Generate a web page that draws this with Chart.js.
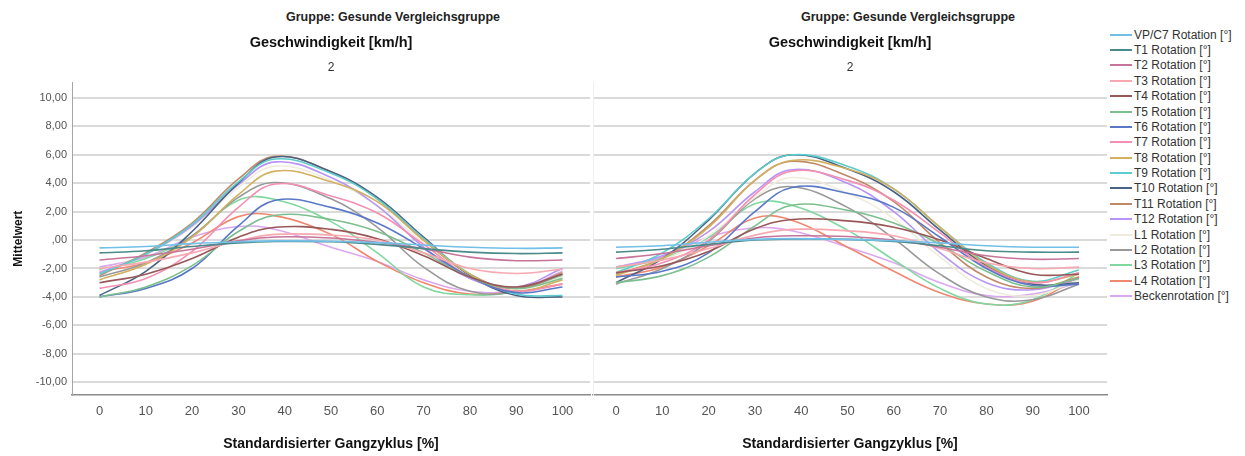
<!DOCTYPE html>
<html>
<head>
<meta charset="utf-8">
<script src="https://cdn.jsdelivr.net/npm/chart.js@4.4.0/dist/chart.umd.min.js"></script>
<style>
  body { margin: 0; background: #fff; font-family: "Liberation Sans", Arial, sans-serif; }
  #wrap { position: relative; width: 1245px; height: 456px; overflow: hidden; }
  .gruppe { position: absolute; top: 10px; font-weight: bold; font-size: 12.5px; color: #222; white-space: nowrap; transform: translateX(-50%); }
  #cA { position: absolute; left: 0; top: 0; }
  #cB { position: absolute; left: 592px; top: 0; }
  #legend { position: absolute; left: 1110px; top: 27px; font-size: 12px; color: #333; }
  .item { height: 15.38px; display: flex; align-items: center; white-space: nowrap; }
  .sw { width: 22px; height: 2px; margin-right: 2px; }
</style>
</head>
<body>
<div id="wrap">
  <div class="gruppe" style="left:393px">Gruppe: Gesunde Vergleichsgruppe</div>
  <div class="gruppe" style="left:908px">Gruppe: Gesunde Vergleichsgruppe</div>
  <canvas id="cA" width="592" height="456"></canvas>
  <canvas id="cB" width="517" height="456"></canvas>
  <div id="legend"></div>
</div>
<script>
const seriesNames = ['VP/C7 Rotation [°]', 'T1 Rotation [°]', 'T2 Rotation [°]', 'T3 Rotation [°]', 'T4 Rotation [°]',
  'T5 Rotation [°]', 'T6 Rotation [°]', 'T7 Rotation [°]', 'T8 Rotation [°]', 'T9 Rotation [°]', 'T10 Rotation [°]',
  'T11 Rotation [°]', 'T12 Rotation [°]', 'L1 Rotation [°]', 'L2 Rotation [°]', 'L3 Rotation [°]', 'L4 Rotation [°]',
  'Beckenrotation [°]'];

const seriesColors = ['#72bfe8', '#4a8a8a', '#c7749a', '#f7a8b0', '#995858', '#7cbf8e', '#5a78c8', '#f48fb1', '#d2b060',
  '#5ccccc', '#4a6285', '#c08a68', '#b794f6', '#f0ecdc', '#999999', '#80d8a0', '#f08870', '#dba8f0'];

// gait cycle sample positions (%)
const gaitCycle = [0, 10, 20, 30, 38, 50, 60, 70, 80, 90, 100];
const xTicks = [0, 10, 20, 30, 40, 50, 60, 70, 80, 90, 100];
const yTicks = [-10, -8, -6, -4, -2, 0, 2, 4, 6, 8, 10];

// left panel, one row per series
const leftValues = [
  [-0.55, -0.45, -0.25, -0.12, -0.06, -0.08, -0.18, -0.35, -0.5, -0.58, -0.55],
  [-0.9, -0.75, -0.45, -0.2, -0.1, -0.12, -0.3, -0.6, -0.85, -0.95, -0.9],
  [-1.4, -1.1, -0.65, -0.05, 0.22, 0.15, -0.15, -0.6, -1.2, -1.45, -1.4],
  [-2.0, -1.55, -0.9, -0.05, 0.4, 0.35, 0.0, -0.9, -2.0, -2.35, -2.05],
  [-3.0, -2.4, -1.3, 0.2, 0.9, 0.75, 0.1, -1.1, -2.6, -3.3, -2.4],
  [-4.0, -3.3, -1.8, 0.6, 1.75, 1.45, 0.6, -0.9, -2.6, -3.4, -2.7],
  [-4.0, -3.4, -2.0, 1.0, 2.8, 2.3, 1.2, -0.6, -2.6, -3.7, -3.3],
  [-3.4, -2.7, -0.8, 2.3, 3.95, 3.1, 1.9, -0.3, -2.6, -3.6, -3.1],
  [-2.8, -1.7, 0.2, 3.2, 4.85, 4.1, 2.7, 0.0, -2.4, -3.6, -2.8],
  [-2.4, -1.0, 1.1, 4.1, 5.7, 4.7, 2.9, 0.1, -2.4, -3.8, -3.9],
  [-3.9, -2.2, 0.6, 4.0, 5.85, 4.8, 3.0, 0.2, -2.5, -3.9, -4.0],
  [-2.5, -0.9, 1.2, 4.3, 5.9, 4.8, 2.9, 0.0, -2.4, -3.4, -2.3],
  [-2.3, -1.0, 1.0, 3.9, 5.5, 4.4, 2.4, -0.5, -2.7, -3.3, -2.0],
  [-2.2, -1.0, 0.9, 3.7, 5.2, 4.2, 2.4, -0.2, -2.6, -3.5, -2.6],
  [-2.6, -1.6, 0.3, 3.0, 4.05, 2.9, 0.9, -1.9, -3.6, -3.6, -2.4],
  [-2.1, -1.3, 0.3, 2.8, 2.85, 1.3, -0.9, -3.3, -3.85, -3.6, -2.5],
  [-2.2, -1.6, -0.2, 1.65, 1.7, 0.4, -1.5, -3.0, -3.8, -3.6, -3.1],
  [-1.9, -1.2, 0.2, 0.95, 0.75, -0.5, -1.5, -2.8, -3.6, -3.5, -2.2]
];

// right panel
const rightValues = [
  [-0.5, -0.4, -0.15, 0.05, 0.1, 0.05, -0.05, -0.2, -0.4, -0.5, -0.5],
  [-0.85, -0.65, -0.3, 0.0, 0.08, 0.05, -0.1, -0.4, -0.75, -0.85, -0.85],
  [-1.3, -0.95, -0.4, 0.15, 0.3, 0.25, 0.0, -0.5, -1.1, -1.35, -1.3],
  [-1.9, -1.4, -0.6, 0.35, 0.75, 0.65, 0.3, -0.6, -1.6, -2.0, -1.9],
  [-2.3, -1.8, -0.8, 0.8, 1.45, 1.35, 0.9, 0.0, -1.3, -2.4, -2.4],
  [-3.0, -2.5, -1.2, 1.0, 2.45, 2.1, 1.2, -0.3, -2.2, -3.3, -2.7],
  [-2.6, -2.2, -0.9, 2.0, 3.7, 3.3, 2.3, 0.2, -2.0, -3.2, -3.1],
  [-2.3, -1.6, 0.0, 3.2, 4.85, 4.2, 2.8, 0.5, -1.9, -3.0, -2.3],
  [-2.5, -1.3, 0.9, 4.2, 5.6, 5.0, 3.6, 0.9, -1.7, -2.95, -2.4],
  [-2.3, -0.9, 1.5, 4.7, 6.0, 5.2, 3.6, 0.9, -1.6, -2.9, -2.1],
  [-3.0, -1.3, 1.4, 4.7, 6.0, 5.0, 3.4, 0.7, -1.8, -3.1, -3.0],
  [-2.4, -1.3, 1.0, 4.2, 5.55, 4.5, 2.7, -0.2, -2.6, -3.4, -2.6],
  [-1.9, -1.1, 0.6, 3.4, 4.95, 4.0, 2.0, -0.9, -3.0, -3.5, -2.7],
  [-2.2, -1.4, 0.3, 3.0, 4.4, 3.3, 1.5, -1.2, -3.4, -3.9, -2.8],
  [-3.1, -2.0, -0.1, 2.9, 3.75, 2.3, 0.1, -2.4, -4.0, -4.2, -3.1],
  [-2.0, -1.3, 0.2, 2.55, 2.45, 0.7, -1.4, -3.4, -4.5, -4.2, -2.3],
  [-2.6, -1.9, -0.4, 1.55, 1.4, -0.5, -2.2, -3.7, -4.5, -4.3, -2.6],
  [-2.0, -1.2, 0.2, 0.85, 0.65, -0.5, -1.6, -3.0, -3.9, -3.8, -3.0]
];

Chart.defaults.font.family = "'Liberation Sans', Arial, sans-serif";

function makePanel(canvasId, values, xMin, xMax, firstPanel) {
  const datasets = values.map((row, i) => ({
    label: seriesNames[i],
    data: gaitCycle.map((x, j) => ({ x: x, y: row[j] })),
    borderColor: seriesColors[i],
    borderWidth: 1.6,
    pointRadius: 0,
    tension: 0.4,
    fill: false
  }));

  return new Chart(document.getElementById(canvasId), {
    type: 'line',
    data: { datasets: datasets },
    options: {
      responsive: false,
      animation: false,
      layout: { padding: { top: 27, right: 2, bottom: 0, left: 0 } },
      plugins: {
        legend: { display: false },
        tooltip: { enabled: false },
        title: {
          display: true,
          fullSize: false,
          text: 'Geschwindigkeit [km/h]',
          color: '#111',
          font: { size: 14.5, weight: 'bold' },
          padding: { top: 7, bottom: 0 }
        },
        subtitle: {
          display: true,
          fullSize: false,
          text: '2',
          color: '#333',
          font: { size: 12 },
          padding: { top: 9, bottom: 7.5 }
        }
      },
      scales: {
        x: {
          type: 'linear',
          min: xMin,
          max: xMax,
          afterBuildTicks: axis => { axis.ticks = xTicks.map(v => ({ value: v })); },
          afterFit: axis => { axis.height = 61; },
          grid: { display: false, drawTicks: false },
          border: { color: '#8c8c8c', width: 1.5 },
          ticks: { color: '#555', font: { size: 13 }, padding: 9, maxRotation: 0, autoSkip: false },
          title: {
            display: true,
            text: 'Standardisierter Gangzyklus [%]',
            color: '#111',
            font: { size: 14, weight: 'bold' },
            padding: { top: 4, bottom: 3 }
          }
        },
        y: {
          min: -10.9,
          max: 11.1,
          afterBuildTicks: axis => { axis.ticks = yTicks.map(v => ({ value: v })); },
          afterFit: axis => { axis.width = firstPanel ? 72 : 1; },
          grid: { color: '#dadada', lineWidth: 2, drawTicks: false },
          border: { color: firstPanel ? '#a6a6a6' : '#eeeeee', width: 1 },
          ticks: {
            display: firstPanel,
            color: '#555',
            font: { size: 11 },
            padding: 5,
            callback: v => v === 0 ? ',00' : v.toFixed(2).replace('.', ',')
          },
          title: {
            display: firstPanel,
            text: 'Mittelwert',
            color: '#111',
            font: { size: 12, weight: 'bold' },
            padding: { top: 11, bottom: 0 }
          }
        }
      }
    }
  });
}

makePanel('cA', leftValues, -5.94, 105.94, true);
makePanel('cB', rightValues, -4.97, 106.05, false);

// legend
const legendEl = document.getElementById('legend');
seriesNames.forEach((name, i) => {
  const item = document.createElement('div');
  item.className = 'item';
  const sw = document.createElement('span');
  sw.className = 'sw';
  sw.style.background = seriesColors[i];
  const txt = document.createElement('span');
  txt.textContent = name;
  item.appendChild(sw);
  item.appendChild(txt);
  legendEl.appendChild(item);
});
</script>
</body>
</html>
